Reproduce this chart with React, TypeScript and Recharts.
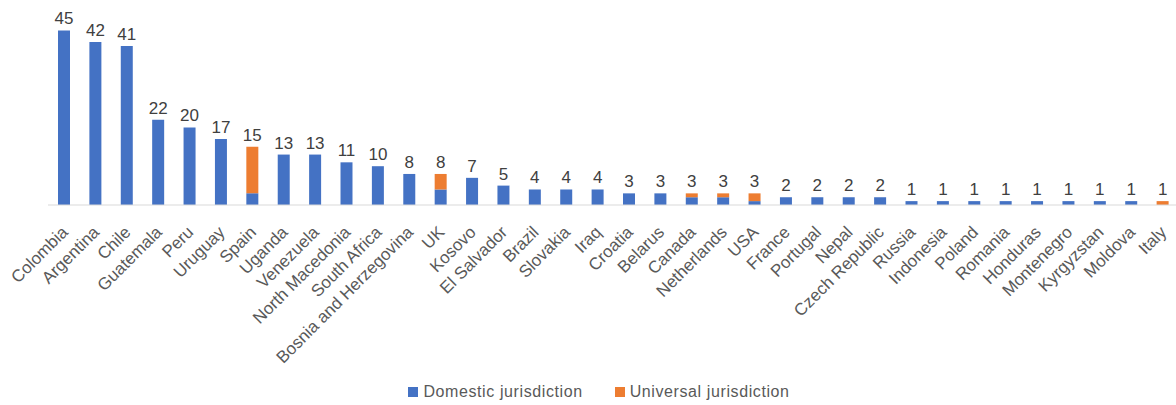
import { BarChart, Bar, XAxis, YAxis, LabelList, Legend } from 'recharts';

const countries = [
  'Colombia', 'Argentina', 'Chile', 'Guatemala', 'Peru', 'Uruguay', 'Spain', 'Uganda',
  'Venezuela', 'North Macedonia', 'South Africa', 'Bosnia and Herzegovina', 'UK', 'Kosovo',
  'El Salvador', 'Brazil', 'Slovakia', 'Iraq', 'Croatia', 'Belarus', 'Canada', 'Netherlands',
  'USA', 'France', 'Portugal', 'Nepal', 'Czech Republic', 'Russia', 'Indonesia', 'Poland',
  'Romania', 'Honduras', 'Montenegro', 'Kyrgyzstan', 'Moldova', 'Italy',
];

const domestic = [
  45, 42, 41, 22, 20, 17, 3, 13, 13, 11, 10, 8, 4, 7, 5, 4, 4, 4, 3, 3, 2, 2,
  1, 2, 2, 2, 2, 1, 1, 1, 1, 1, 1, 1, 1, 0,
];

const universal = [
  0, 0, 0, 0, 0, 0, 12, 0, 0, 0, 0, 0, 4, 0, 0, 0, 0, 0, 0, 0, 1, 1,
  2, 0, 0, 0, 0, 0, 0, 0, 0, 0, 0, 0, 0, 1,
];

const BLUE = '#4472C4';
const ORANGE = '#ED7D31';
const TEXT = '#595959';
const FONT = '"Liberation Sans", Arial, sans-serif';

const data = countries.map((name, i) => ({
  name,
  domestic: domestic[i],
  universal: universal[i],
  total: domestic[i] + universal[i],
}));

function CountryTick({ x, y, payload }: any) {
  const ax = x + 1;
  const ay = y + 16;
  return (
    <text
      x={ax}
      y={ay}
      dy="0.35em"
      textAnchor="end"
      transform={`rotate(-45, ${ax}, ${ay})`}
      fill={TEXT}
      fontSize={17}
      fontFamily={FONT}
    >
      {payload.value}
    </text>
  );
}

// total above the stack; value is null when another segment sits on top
function TotalLabel({ x, y, width, value }: any) {
  if (value == null) return null;
  return (
    <text
      x={x + width / 2}
      y={y - 6}
      textAnchor="middle"
      fill="#404040"
      fontSize={17}
      fontFamily={FONT}
    >
      {value}
    </text>
  );
}

const domesticTotal = (d: any) => (d.universal === 0 ? d.total : null);

function LegendRow() {
  const items = [
    { label: 'Domestic jurisdiction', color: BLUE },
    { label: 'Universal jurisdiction', color: ORANGE },
  ];
  return (
    <div
      style={{
        height: 26,
        paddingLeft: 22,
        display: 'flex',
        justifyContent: 'center',
        alignItems: 'center',
        gap: 32,
        fontFamily: FONT,
        fontSize: 16,
        letterSpacing: 0.6,
        color: TEXT,
      }}
    >
      {items.map((it) => (
        <span key={it.label} style={{ display: 'flex', alignItems: 'center' }}>
          <span style={{ width: 10, height: 10, background: it.color, marginRight: 5 }} />
          {it.label}
        </span>
      ))}
    </div>
  );
}

export default function App() {
  return (
    <div
      style={{
        position: 'fixed',
        left: 0,
        top: 0,
        width: 1176,
        height: 405,
        overflow: 'hidden',
        background: '#fff',
      }}
    >
      <BarChart
        width={1178}
        height={405}
        data={data}
        margin={{ top: 11, right: 0, bottom: 0, left: 48 }}
        barSize={12}
      >
        <XAxis
          dataKey="name"
          interval={0}
          height={174}
          tickLine={false}
          axisLine={{ stroke: '#D9D9D9' }}
          tick={<CountryTick />}
        />
        <YAxis hide domain={[0, 50]} />
        <Legend
          verticalAlign="bottom"
          content={<LegendRow />}
          wrapperStyle={{ bottom: 0, left: 0, width: 1176 }}
        />
        <Bar dataKey="domestic" stackId="a" fill={BLUE} isAnimationActive={false}>
          <LabelList dataKey={domesticTotal} content={<TotalLabel />} />
        </Bar>
        <Bar dataKey="universal" stackId="a" fill={ORANGE} isAnimationActive={false}>
          <LabelList dataKey="total" content={<TotalLabel />} />
        </Bar>
      </BarChart>
    </div>
  );
}
